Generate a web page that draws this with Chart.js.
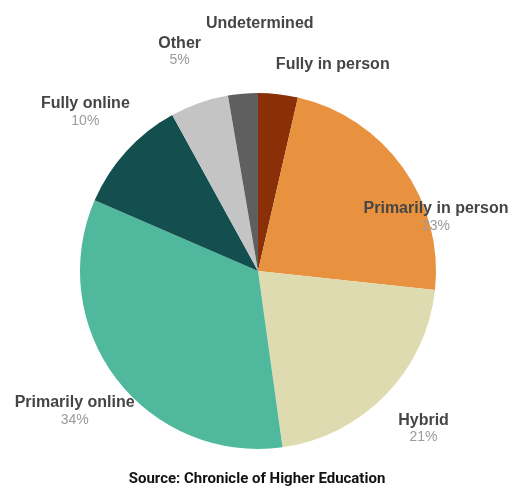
<!DOCTYPE html>
<html>
<head>
<meta charset="utf-8">
<script src="https://cdn.jsdelivr.net/npm/chart.js@4/dist/chart.umd.min.js"></script>
<style>
    html, body { margin: 0; padding: 0; background: #fff; }
    #wrap { width: 510px; height: 488px; position: relative; }
</style>
</head>
<body>
<div id="wrap"><canvas id="PieChart1"></canvas></div>
<script>
// slice data, clockwise from 12 o'clock
const modeNames = ['Fully in person', 'Primarily in person', 'Hybrid', 'Primarily online', 'Fully online', 'Other', 'Undetermined'];
const modeShares = [3.6, 23.1, 21.1, 33.7, 10.5, 5.3, 2.7];
const shareLabels = ['', '23%', '21%', '34%', '10%', '5%', ''];
const sliceColors = ['#8a2f08', '#e8923f', '#dfdbb0', '#50b89c', '#124f4e', '#c4c4c4', '#5f5f5f'];

// where each label sits, relative to pie centre in radius units
const labelSpots = [
    [0.42, -1.16],
    [1.00, -0.35],
    [0.93, 0.84],
    [-1.03, 0.74],
    [-0.97, -0.94],
    [-0.44, -1.28],
    [0.01, -1.39]
];

const sliceLabels = {
    id: 'sliceLabels',
    afterDraw(chart) {
        const ctx = chart.ctx;
        const arc = chart.getDatasetMeta(0).data[0];
        const cx = arc.x, cy = arc.y, r = arc.outerRadius;
        ctx.save();
        ctx.textAlign = 'center';
        ctx.textBaseline = 'middle';
        modeNames.forEach((name, i) => {
            const x = cx + labelSpots[i][0] * r;
            const y = cy + labelSpots[i][1] * r;
            ctx.font = 'bold 16px "Liberation Sans", Arial, sans-serif';
            ctx.fillStyle = '#454545';
            ctx.fillText(name, x, y);
            if (shareLabels[i]) {
                ctx.font = '14px "Liberation Sans", Arial, sans-serif';
                ctx.fillStyle = '#9a9a9a';
                ctx.fillText(shareLabels[i], x, y + 17);
            }
        });
        // source line
        ctx.font = 'bold 15px Roboto, sans-serif';
        ctx.fillStyle = '#111';
        ctx.fillText('Source: Chronicle of Higher Education', 257, 479);
        ctx.restore();
    }
};

const ctx1 = document.getElementById('PieChart1');
const PieChart1 = new Chart(ctx1, {
    type: 'pie',
    data: {
        labels: modeNames,
        datasets: [{
            backgroundColor: sliceColors,
            borderWidth: 0,
            data: modeShares
        }]
    },
    options: {
        responsive: true,
        maintainAspectRatio: false,
        animation: false,
        layout: {
            padding: {top: 93, bottom: 39, left: 6, right: 0}
        },
        plugins: {
            legend: {display: false},
            tooltip: {enabled: false}
        }
    },
    plugins: [sliceLabels]
});
</script>
</body>
</html>
